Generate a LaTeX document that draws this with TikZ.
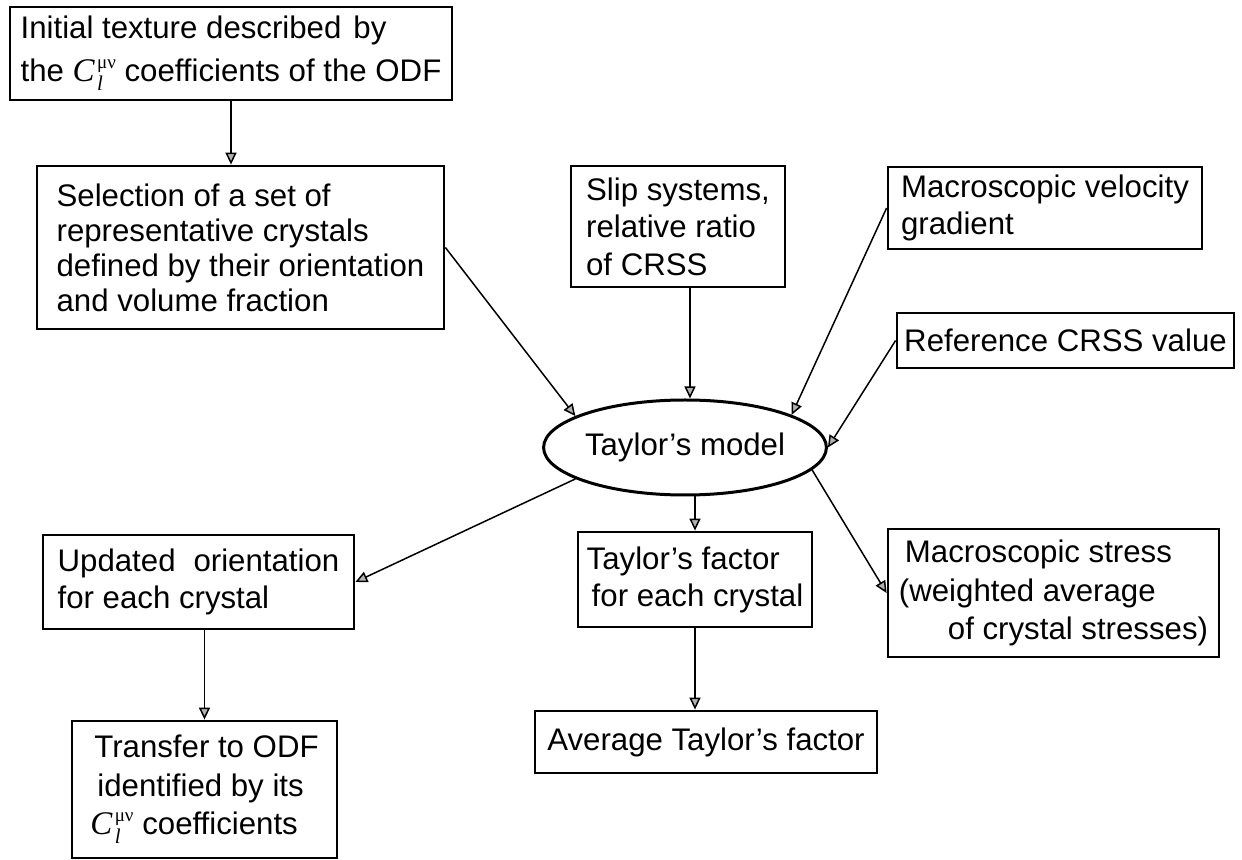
\documentclass[tikz,border=0pt]{standalone}
\usepackage{fontspec}
\setmainfont{Liberation Sans}
\newfontfamily\serif{Liberation Serif}
\usetikzlibrary{arrows.meta,shapes.geometric}
% ODF coefficient symbol C_l^{mu nu}: italic C, raised mu-nu, lowered l
\newcommand\Ccoef{{\serif\itshape\fontsize{16.5}{16.5}\selectfont C}\kern1.2pt%
  \rlap{\raisebox{6.5pt}{\serif\fontsize{9.5}{9.5}\selectfont μν}}%
  \raisebox{-4.5pt}{\serif\itshape\fontsize{10.5}{10.5}\selectfont l}\kern6.5pt}
\begin{document}
\begin{tikzpicture}[x=0.5pt,y=-0.5pt,
  box/.style={draw, line width=1.4pt, rectangle, align=left, inner sep=0pt,
              font=\fontsize{15.6}{18.5}\selectfont},
  oval/.style={ellipse, draw, line width=1.5pt, inner sep=0pt,
              font=\fontsize{15.6}{18}\selectfont},
  arr/.style={line width=0.75pt, -{Triangle[length=6pt,width=5.5pt,fill=gray!60]}}]
\useasboundingbox (0,0) rectangle (1242,860);
\fill[white] (0,0) rectangle (1242,860);

% inputs
\node[box, minimum width=221pt, minimum height=46.5pt, font=\fontsize{15.6}{21.5}\selectfont]
  (init) at (231,53.5)
  {Initial texture described\hspace{6pt}by\\the \Ccoef{} coefficients of the ODF};
\node[box, minimum width=203.5pt, minimum height=81.5pt, font=\fontsize{15.6}{17.5}\selectfont]
  (sel) at (240.5,247.5)
  {Selection of a set of\\representative crystals\\defined by their orientation\\and volume fraction};
\node[box, minimum width=107pt, minimum height=60.5pt, font=\fontsize{15.6}{18.75}\selectfont]
  (slip) at (678,226.5) {Slip systems,\\relative ratio\\of CRSS};
\node[box, minimum width=157pt, minimum height=41pt]
  (vel) at (1045,208) {Macroscopic velocity\\gradient};
\node[box, minimum width=168.5pt, minimum height=27.5pt]
  (ref) at (1065.5,340.5) {Reference CRSS value};

% model
\node[oval, minimum width=128pt, minimum height=47.5pt] (model) at (685,447.5) {Taylor’s model};

% outputs
\node[box, minimum width=155.5pt, minimum height=47pt]
  (upd) at (198.5,582) {Updated\hspace{9pt}orientation\\for each crystal};
\node[box, minimum width=117pt, minimum height=47.5pt]
  (tf) at (695,579.5) {Taylor’s factor\\\hspace*{2.5pt}for each crystal};
\node[box, minimum width=171pt, minimum height=31pt]
  (avg) at (706,742) {Average Taylor’s factor};
\node[box, minimum width=165.5pt, minimum height=64pt, font=\fontsize{15.6}{19.25}\selectfont]
  (stress) at (1053.5,593)
  {\hspace*{3pt}Macroscopic stress\\(weighted average\\\hspace*{24.5pt}of crystal stresses)};
\node[box, minimum width=132.5pt, minimum height=68.5pt, font=\fontsize{15.6}{19.25}\selectfont]
  (transfer) at (204.5,789.5)
  {\hspace*{2pt}Transfer to ODF\\\hspace*{3.5pt}identified by its\\\Ccoef{} coefficients};

% connectors
\draw[arr] (init.south) -- (init.south |- sel.north);
\draw[arr] (sel.east) -- (model.164);
\draw[arr] ([xshift=6pt]slip.south) -- ([xshift=6pt]slip.south |- model.north);
\draw[arr] (vel.west) -- (model.17);
\draw[arr] (ref.west) -- (model.east);
\draw[arr] (model.196) -- (upd.east);
\draw[arr] (model.south -| tf.north) -- (tf.north);
\draw[arr] (model.-10) -- (stress.west);
\draw[arr] (tf.south) -- (tf.south |- avg.north);
\draw[arr] (transfer.north |- upd.south) -- (transfer.north);
\end{tikzpicture}
\end{document}
